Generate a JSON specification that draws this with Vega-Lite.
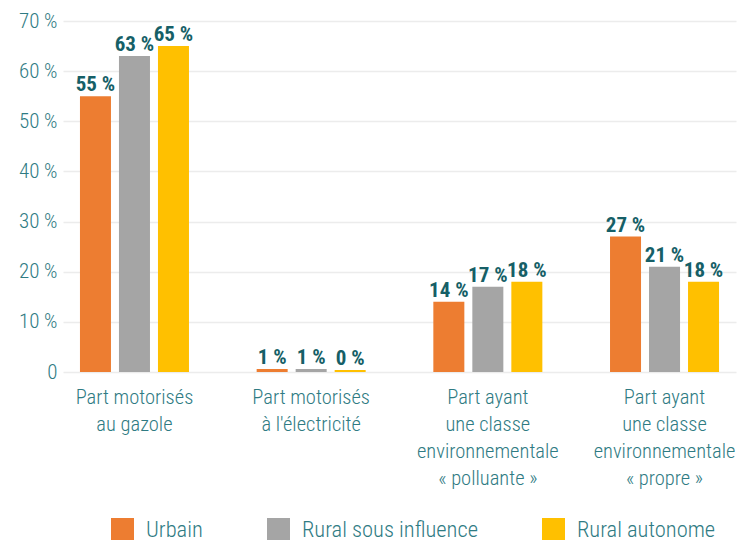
{
  "$schema": "https://vega.github.io/schema/vega-lite/v6.json",
  "width": 673,
  "height": 351,
  "autosize": {"type": "none"},
  "padding": {"left": 63, "top": 21, "right": 13, "bottom": 168},
  "background": "white",
  "config": {
    "view": {"stroke": null},
    "font": "Roboto Condensed, Liberation Sans Narrow, DejaVu Sans Condensed, sans-serif"
  },
  "data": {
    "values": [
      {"cat": "Part motorisés|au gazole", "grp": "Urbain", "value": 55, "txt": "55 %"},
      {"cat": "Part motorisés|au gazole", "grp": "Rural sous influence", "value": 63, "txt": "63 %"},
      {"cat": "Part motorisés|au gazole", "grp": "Rural autonome", "value": 65, "txt": "65 %"},
      {"cat": "Part motorisés|à l'électricité", "grp": "Urbain", "value": 0.6, "txt": "1 %"},
      {"cat": "Part motorisés|à l'électricité", "grp": "Rural sous influence", "value": 0.6, "txt": "1 %"},
      {"cat": "Part motorisés|à l'électricité", "grp": "Rural autonome", "value": 0.4, "txt": "0 %"},
      {"cat": "Part ayant|une classe|environnementale|« polluante »", "grp": "Urbain", "value": 14, "txt": "14 %"},
      {"cat": "Part ayant|une classe|environnementale|« polluante »", "grp": "Rural sous influence", "value": 17, "txt": "17 %"},
      {"cat": "Part ayant|une classe|environnementale|« polluante »", "grp": "Rural autonome", "value": 18, "txt": "18 %"},
      {"cat": "Part ayant|une classe|environnementale|« propre »", "grp": "Urbain", "value": 27, "txt": "27 %"},
      {"cat": "Part ayant|une classe|environnementale|« propre »", "grp": "Rural sous influence", "value": 21, "txt": "21 %"},
      {"cat": "Part ayant|une classe|environnementale|« propre »", "grp": "Rural autonome", "value": 18, "txt": "18 %"}
    ]
  },
  "encoding": {
    "x": {
      "field": "cat",
      "type": "nominal",
      "sort": null,
      "scale": {"paddingInner": 0.383, "paddingOuter": 0.096},
      "axis": {
        "title": null,
        "labelAngle": 0,
        "domain": false,
        "ticks": false,
        "labelPadding": 15,
        "labelFontSize": 20.5,
        "labelFontWeight": 300,
        "labelColor": "#2f7b83",
        "labelLineHeight": 27,
        "labelBaseline": "top",
        "labelExpr": "split(datum.label, '|')"
      }
    },
    "xOffset": {
      "field": "grp",
      "type": "nominal",
      "sort": ["Urbain", "Rural sous influence", "Rural autonome"],
      "scale": {"paddingInner": 0.205, "paddingOuter": 0}
    },
    "y": {
      "field": "value",
      "type": "quantitative",
      "scale": {"domain": [0, 70], "nice": false},
      "axis": {
        "title": null,
        "values": [0, 10, 20, 30, 40, 50, 60, 70],
        "domain": false,
        "ticks": false,
        "labelPadding": 6,
        "labelFontSize": 21,
        "labelFontWeight": 300,
        "labelColor": "#2f7b83",
        "gridColor": "#ececec",
        "gridWidth": 1.5,
        "labelExpr": "datum.value == 0 ? '0' : datum.value + ' %'"
      }
    }
  },
  "layer": [
    {
      "mark": {"type": "bar"},
      "encoding": {
        "color": {
          "field": "grp",
          "type": "nominal",
          "sort": ["Urbain", "Rural sous influence", "Rural autonome"],
          "scale": {
            "domain": ["Urbain", "Rural sous influence", "Rural autonome"],
            "range": ["#ED7D31", "#A5A5A5", "#FFC000"]
          },
          "legend": {
            "title": null,
            "orient": "none",
            "direction": "horizontal",
            "legendX": 48,
            "legendY": 497,
            "padding": 0,
            "symbolType": "square",
            "symbolSize": 529,
            "symbolStrokeWidth": 0,
            "labelFontSize": 22.5,
            "labelFontWeight": 300,
            "labelColor": "#2f7b83",
            "labelOffset": 12,
            "columnPadding": 64,
            "labelLimit": 300
          }
        }
      }
    },
    {
      "mark": {
        "type": "text",
        "baseline": "alphabetic",
        "dy": -5,
        "fontSize": 21,
        "fontWeight": "bold",
        "color": "#165f67"
      },
      "encoding": {
        "text": {"field": "txt", "type": "nominal"}
      }
    }
  ]
}
